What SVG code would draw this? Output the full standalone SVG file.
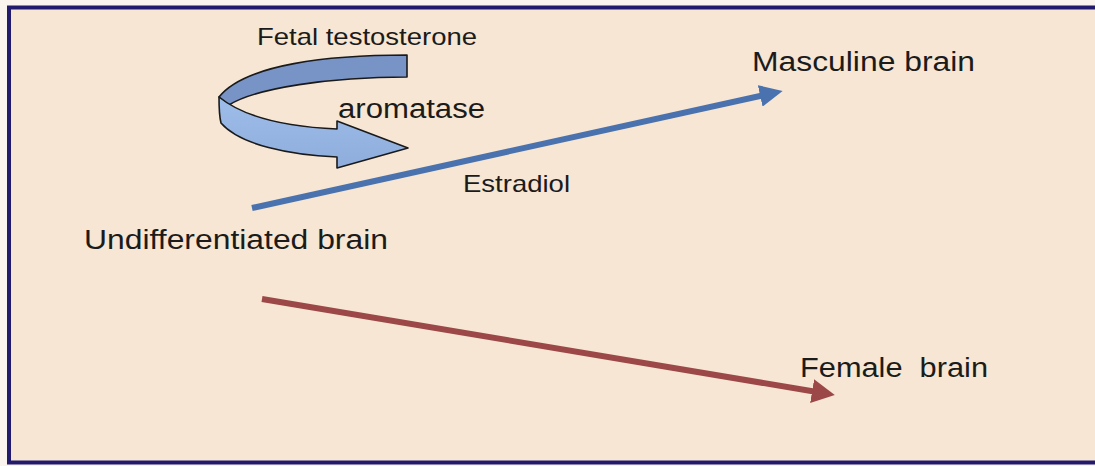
<svg xmlns="http://www.w3.org/2000/svg" width="1095" height="466" viewBox="0 0 1095 466">
  <style>
    .lbl { font-family: "Liberation Sans", Arial, sans-serif; fill: #1b1b1b; }
    .band { stroke: #1a1a1a; stroke-width: 1.6; stroke-linejoin: round; }
  </style>
  <defs>
    <marker id="headBlue" markerUnits="userSpaceOnUse" markerWidth="24" markerHeight="22" refX="8" refY="11" orient="auto">
      <path d="M0,0 L23,11 L0,22 Z" fill="#4a72ae"/>
    </marker>
    <marker id="headRed" markerUnits="userSpaceOnUse" markerWidth="24" markerHeight="24" refX="8" refY="12" orient="auto">
      <path d="M0,0 L23,12 L0,24 Z" fill="#9c4748"/>
    </marker>
    <linearGradient id="frontGrad" x1="0" y1="0" x2="0" y2="1">
      <stop offset="0" stop-color="#9fbde9"/>
      <stop offset="1" stop-color="#8eaddc"/>
    </linearGradient>
  </defs>
  <rect x="0" y="0" width="1095" height="466" fill="#fbf3ee"/>
  <rect id="frame" x="9" y="7.5" width="1100" height="455" fill="#f6e6d3" stroke="#221a6c" stroke-width="4"/>

  <g id="connectors">
    <g id="loop-arrow">
      <path class="band" fill="#7893c6" d="M407,55 C330,55 245,64 219,97 L229,105 C256,88 330,77 407,77 Z"/>
      <path class="band" fill="url(#frontGrad)" d="M219,97 C219,106 219,115 221,123 C240,145 290,155 337,157 L337,168 L408,148 L337,121 L337,129 C290,127 245,118 219,97 Z"/>
    </g>
    <line id="to-masculine" x1="252" y1="208" x2="768" y2="94.2" stroke="#4a72ae" stroke-width="6" marker-end="url(#headBlue)"/>
    <line id="to-female" x1="262" y1="299" x2="820" y2="392.5" stroke="#9c4748" stroke-width="6" marker-end="url(#headRed)"/>
  </g>

  <g id="fetal-testosterone"><text class="lbl" x="257" y="45" font-size="24" textLength="220" lengthAdjust="spacingAndGlyphs">Fetal testosterone</text></g>
  <g id="aromatase"><text class="lbl" x="338" y="118" font-size="27" textLength="147" lengthAdjust="spacingAndGlyphs">aromatase</text></g>
  <g id="estradiol"><text class="lbl" x="463" y="192" font-size="24" textLength="107" lengthAdjust="spacingAndGlyphs">Estradiol</text></g>
  <g id="masculine-brain"><text class="lbl" x="752" y="71" font-size="27" textLength="223" lengthAdjust="spacingAndGlyphs">Masculine brain</text></g>
  <g id="undifferentiated-brain"><text class="lbl" x="84" y="249" font-size="27" textLength="304" lengthAdjust="spacingAndGlyphs">Undifferentiated brain</text></g>
  <g id="female-brain"><text class="lbl" x="800" y="377" font-size="27" textLength="188" lengthAdjust="spacingAndGlyphs" xml:space="preserve">Female  brain</text></g>
</svg>
